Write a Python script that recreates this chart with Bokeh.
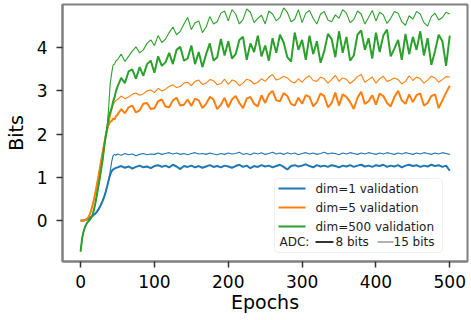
from bokeh.plotting import figure
from bokeh.models import Range1d, BoxAnnotation, Label, FixedTicker
from bokeh.embed import file_html
from bokeh.resources import INLINE

# ---------------- data ----------------
epochs = list(range(0, 50, 2)) + list(range(50, 501, 5))

blue_15 = [
    0.00, 0.00, 0.00, 0.01, 0.02, 0.03, 0.05, 0.08, 0.10, 0.13,
    0.16, 0.20, 0.25, 0.31, 0.38, 0.46, 0.55, 0.66, 0.79, 0.93,
    1.12, 1.35, 1.50, 1.53, 1.51,
    1.54, 1.51, 1.55, 1.52, 1.54, 1.50, 1.53, 1.55, 1.52, 1.54,
    1.53, 1.56, 1.53, 1.55, 1.57, 1.54, 1.56, 1.53, 1.55, 1.52,
    1.55, 1.57, 1.54, 1.55, 1.53, 1.56, 1.54, 1.52, 1.55, 1.53,
    1.56, 1.54, 1.55, 1.58, 1.53, 1.55, 1.52, 1.56, 1.54, 1.57,
    1.53, 1.55, 1.58, 1.54, 1.56, 1.53, 1.57, 1.54, 1.56, 1.52,
    1.55, 1.57, 1.54, 1.56, 1.53, 1.55, 1.58, 1.54, 1.56, 1.55,
    1.52, 1.56, 1.54, 1.57, 1.55, 1.53, 1.56, 1.54, 1.57, 1.55,
    1.53, 1.56, 1.54, 1.57, 1.55, 1.53, 1.56, 1.54, 1.57, 1.55,
    1.53, 1.56, 1.54, 1.57, 1.55, 1.53, 1.56, 1.54, 1.57, 1.55,
    1.53,
]
blue_8 = [
    0.00, 0.00, 0.00, 0.01, 0.02, 0.03, 0.05, 0.08, 0.10, 0.13,
    0.16, 0.20, 0.25, 0.31, 0.38, 0.46, 0.55, 0.66, 0.79, 0.93,
    1.06, 1.14, 1.18, 1.20, 1.22,
    1.23, 1.26, 1.22, 1.25, 1.20, 1.24, 1.27, 1.23, 1.25, 1.21,
    1.26, 1.28, 1.24, 1.27, 1.23, 1.29, 1.25, 1.19, 1.26, 1.24,
    1.27, 1.23, 1.26, 1.22, 1.25, 1.28, 1.24, 1.26, 1.23, 1.27,
    1.25, 1.22, 1.26, 1.29, 1.24, 1.27, 1.21, 1.26, 1.24, 1.28,
    1.25, 1.27, 1.23, 1.26, 1.29, 1.24, 1.18, 1.26, 1.28, 1.25,
    1.27, 1.30, 1.26, 1.23, 1.28, 1.25, 1.27, 1.24, 1.28, 1.26,
    1.23, 1.27, 1.25, 1.28, 1.24, 1.27, 1.29, 1.25, 1.27, 1.24,
    1.28, 1.26, 1.29, 1.24, 1.27, 1.25, 1.28, 1.23, 1.27, 1.29,
    1.26, 1.28, 1.24, 1.27, 1.25, 1.29, 1.26, 1.28, 1.24, 1.27,
    1.15,
]
orange_15 = [
    0.00, -0.01, 0.00, 0.01, 0.03, 0.06, 0.12, 0.22, 0.34, 0.48,
    0.64, 0.82, 1.00, 1.20, 1.40, 1.60, 1.78, 1.95, 2.10, 2.22,
    2.40, 2.55, 2.68, 2.74, 2.78,
    2.80, 2.88, 2.82, 2.86, 2.92, 2.95, 2.90, 2.93, 3.00, 3.02,
    2.96, 3.06, 3.00, 3.04, 3.10, 3.14, 3.08, 3.10, 3.18, 3.20,
    3.12, 3.22, 3.25, 3.15, 3.18, 3.26, 3.24, 3.14, 3.17, 3.27,
    3.15, 3.25, 3.22, 3.12, 3.18, 3.27, 3.24, 3.16, 3.20, 3.28,
    3.22, 3.32, 3.38, 3.25, 3.28, 3.34, 3.30, 3.22, 3.18, 3.28,
    3.20, 3.30, 3.35, 3.24, 3.22, 3.32, 3.28, 3.18, 3.26, 3.36,
    3.22, 3.30, 3.27, 3.17, 3.24, 3.33, 3.38, 3.20, 3.26, 3.32,
    3.18, 3.28, 3.34, 3.22, 3.25, 3.30, 3.26, 3.16, 3.22, 3.35,
    3.24, 3.32, 3.28, 3.18, 3.25, 3.34, 3.30, 3.20, 3.26, 3.33,
    3.32,
]
orange_8 = [
    0.00, -0.01, 0.00, 0.01, 0.03, 0.06, 0.12, 0.22, 0.34, 0.48,
    0.64, 0.82, 1.00, 1.20, 1.40, 1.60, 1.78, 1.95, 2.10, 2.22,
    2.28, 2.30, 2.36, 2.34, 2.42,
    2.45, 2.58, 2.48, 2.62, 2.66, 2.50, 2.55, 2.70, 2.72, 2.58,
    2.60, 2.76, 2.80, 2.64, 2.62, 2.78, 2.84, 2.66, 2.68, 2.80,
    2.65, 2.82, 2.78, 2.60, 2.70, 2.86, 2.80, 2.58, 2.68, 2.84,
    2.62, 2.80, 2.88, 2.72, 2.60, 2.82, 2.86, 2.70, 2.64, 2.90,
    2.72, 2.92, 3.00, 2.78, 2.76, 2.95, 2.88, 2.70, 2.66, 2.84,
    2.70, 2.90, 2.86, 2.64, 2.74, 2.94, 2.88, 2.62, 2.72, 2.96,
    2.66, 2.92, 2.86, 2.74, 2.58, 2.84, 2.98, 2.70, 2.76, 2.90,
    2.68, 2.94, 2.88, 2.72, 2.64, 2.86, 3.00, 2.78, 2.70, 2.92,
    2.74, 2.90, 2.94, 2.66, 2.72, 2.88, 2.92, 2.60, 2.78, 2.96,
    3.12,
]
green_15 = [
    -0.72, -0.42, -0.26, -0.15, -0.08, -0.03, 0.01, 0.05, 0.12, 0.24,
    0.40, 0.58, 0.78, 0.98, 1.20, 1.42, 1.70, 1.95, 2.15, 2.60,
    3.15, 3.40, 3.60, 3.62, 3.70,
    3.72, 3.85, 3.68, 3.80, 3.92, 4.02, 3.88, 3.95, 4.10, 4.18,
    4.05, 4.28, 4.12, 4.20, 4.35, 4.48, 4.30, 4.38, 4.55, 4.70,
    4.42, 4.58, 4.62, 4.35, 4.48, 4.72, 4.55, 4.60, 4.80, 4.85,
    4.62, 4.88, 4.78, 4.55, 4.65, 4.90, 4.82, 4.58, 4.68, 4.75,
    4.55, 4.85, 4.78, 4.62, 4.70, 4.92, 4.82, 4.60, 4.66, 4.88,
    4.58, 4.80, 4.86, 4.68, 4.55, 4.78, 4.84, 4.64, 4.60, 4.76,
    4.68, 4.88, 4.80, 4.58, 4.65, 4.85, 4.78, 4.55, 4.70, 4.86,
    4.62, 4.82, 4.76, 4.56, 4.68, 4.84, 4.80, 4.60, 4.52, 4.74,
    4.66, 4.84, 4.78, 4.58, 4.50, 4.72, 4.80, 4.64, 4.70, 4.82,
    4.78,
]
green_8 = [
    -0.72, -0.42, -0.26, -0.15, -0.08, -0.03, 0.01, 0.05, 0.12, 0.24,
    0.40, 0.58, 0.78, 0.98, 1.20, 1.42, 1.70, 1.95, 2.15, 2.40,
    2.50, 2.60, 2.75, 2.85, 3.00,
    3.10, 3.30, 3.18, 3.45, 3.50, 3.28, 3.55, 3.35, 3.62, 3.70,
    3.42, 3.80, 3.58, 3.66, 3.88, 3.62, 3.95, 4.02, 3.70, 3.75,
    4.05, 3.62, 3.90, 3.55, 3.85, 4.10, 3.70, 3.78, 4.20, 3.82,
    4.15, 3.75, 3.85, 4.18, 4.25, 3.72, 4.10, 3.90, 4.28, 3.80,
    4.05, 3.70, 4.22, 3.88, 4.30, 4.12, 3.78, 3.68, 4.35, 3.95,
    4.18, 3.72, 4.28, 3.85, 4.15, 3.65, 3.92, 4.32, 4.20, 3.78,
    4.38, 3.88, 4.25, 3.70, 3.82, 4.30, 4.40, 3.95, 4.22, 3.75,
    4.35, 3.90, 4.28, 4.42, 3.80, 3.98, 4.18, 3.72, 4.32, 3.85,
    4.25, 3.95, 4.38, 3.82, 4.22, 3.60, 3.92, 4.30, 4.15, 3.58,
    4.28,
]

x_ticks = [0, 100, 200, 300, 400, 500]
y_ticks = [0, 1, 2, 3, 4]
labels = ["dim=1 validation", "dim=5 validation", "dim=500 validation"]
colors = ["#1f77b4", "#ff7f0e", "#2ca02c"]

for s in (blue_15, blue_8, orange_15, orange_8, green_15, green_8):
    assert len(s) == len(epochs), (len(s), len(epochs))

# ---------------- figure ----------------
FW, FH = 405, 257
L, T = 62, 4
X0, X1 = -24.5, 524.0
Y0, Y1 = -0.95, 5.0

p = figure(frame_width=FW, frame_height=FH, output_backend="svg",
           toolbar_location=None, x_range=Range1d(X0, X1), y_range=Range1d(Y0, Y1),
           min_border_left=L, min_border_right=4, min_border_top=T, min_border_bottom=59)
p.background_fill_color = "white"
p.border_fill_color = "white"
p.grid.visible = False
p.outline_line_color = "#808080"
p.outline_line_width = 2

font = "DejaVu Sans"
for ax in (p.xaxis[0], p.yaxis[0]):
    ax.axis_line_color = "#808080"
    ax.axis_line_width = 2
    ax.major_tick_line_color = "#333333"
    ax.major_tick_line_width = 1.5
    ax.major_tick_out = 6
    ax.major_tick_in = 0
    ax.minor_tick_line_color = None
    ax.major_label_text_font = font
    ax.major_label_text_font_size = "17px"
    ax.major_label_text_color = "black"
    ax.axis_label_text_font = font
    ax.axis_label_text_font_size = "19px"
    ax.axis_label_text_font_style = "normal"
    ax.axis_label_text_color = "black"

p.xaxis[0].ticker = FixedTicker(ticks=x_ticks)
p.yaxis[0].ticker = FixedTicker(ticks=y_ticks)
p.xaxis[0].axis_label = "Epochs"
p.yaxis[0].axis_label = "Bits"
p.xaxis[0].major_label_standoff = 7
p.xaxis[0].axis_label_standoff = 0
p.yaxis[0].major_label_standoff = 9
p.yaxis[0].axis_label_standoff = 7

series = [(blue_8, blue_15), (orange_8, orange_15), (green_8, green_15)]
for (s8, s15), c in zip(series, colors):
    p.line(epochs, s8, line_color=c, line_width=2.0)
    p.line(epochs, s15, line_color=c, line_width=1.1)

# ---------------- legend (drawn manually) ----------------
def fx(px):
    return X0 + (px - L) * (X1 - X0) / FW

def fy(py):
    return Y1 - (py - T) * (Y1 - Y0) / FH

LFS = "12px"
p.add_layout(BoxAnnotation(left=fx(274), right=fx(442), top=fy(178), bottom=fy(252),
                           fill_color="white", fill_alpha=0.85,
                           line_color="#cccccc", line_width=1, border_radius=4))
rows = [188, 207, 226]
for lab, c, ry in zip(labels, colors, rows):
    r = p.segment(x0=[fx(278)], x1=[fx(305)], y0=[fy(ry)], y1=[fy(ry)], line_color=c, line_width=2)
    r.level = "overlay"
    p.add_layout(Label(x=fx(315), y=fy(ry), text=lab, text_font=font, text_font_size=LFS,
                       text_baseline="middle", text_align="left", text_color="#222222"))
ry = 241.5
p.add_layout(Label(x=fx(279), y=fy(ry), text="ADC:", text_font=font, text_font_size=LFS,
                   text_baseline="middle", text_align="left", text_color="#222222"))
r = p.segment(x0=[fx(315)], x1=[fx(333)], y0=[fy(ry)], y1=[fy(ry)], line_color="#333333", line_width=2)
r.level = "overlay"
p.add_layout(Label(x=fx(335), y=fy(ry), text="8 bits", text_font=font, text_font_size=LFS,
                   text_baseline="middle", text_align="left", text_color="#222222"))
r = p.segment(x0=[fx(377)], x1=[fx(393)], y0=[fy(ry)], y1=[fy(ry)], line_color="#888888", line_width=1.3)
r.level = "overlay"
p.add_layout(Label(x=fx(393), y=fy(ry), text="15 bits", text_font=font, text_font_size=LFS,
                   text_baseline="middle", text_align="left", text_color="#222222"))

open("out.html", "w").write(file_html(p, INLINE))
